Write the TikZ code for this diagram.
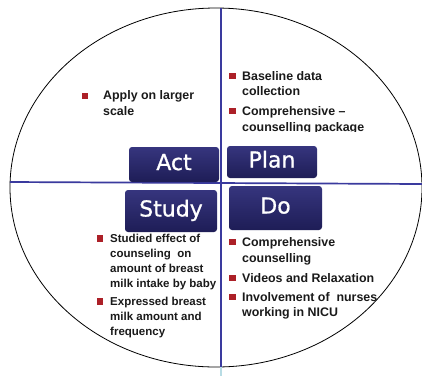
\documentclass[tikz,border=0pt]{standalone}
\usepackage{fontspec}
\setmainfont{Liberation Sans}
\newfontfamily\boxfont[FakeBold=0.8]{DejaVu Sans}
\definecolor{divblue}{HTML}{3A3A9E}
\definecolor{paleblue}{HTML}{B8DCE4}
\definecolor{boxtop}{HTML}{36357E}
\definecolor{boxbot}{HTML}{1E1D56}
\definecolor{bulred}{HTML}{AC2028}
\definecolor{txt}{HTML}{1A1A1A}
\newcommand\itemlines[2]{\vtop{\baselineskip=#1\lineskiplimit=-10pt\halign{##\hfil\cr#2\crcr}}}
\begin{document}
\begin{tikzpicture}[x=1pt,y=-1pt,
  divider/.style={draw=divblue,line width=1.7pt},
  pdcabox/.style={rectangle,rounded corners=3pt,top color=boxtop,bottom color=boxbot,
    text=white,font=\boxfont\fontsize{22}{24}\selectfont,text height=16pt,text depth=5pt,inner sep=0pt},
  bulsq/.style={rectangle,fill=bulred,minimum size=6.5pt,inner sep=0pt},
  bigitem/.style={anchor=base west,inner sep=0pt,text=txt,font=\bfseries\fontsize{12.4}{15.7}\selectfont},
  smallitem/.style={anchor=base west,inner sep=0pt,text=txt,font=\bfseries\fontsize{11.5}{15}\selectfont}]
\useasboundingbox (0,0) rectangle (422,376);
\fill[white] (0,0) rectangle (422,376);
% ellipse
\draw[black,line width=0.8pt] (216,187.5) ellipse [x radius=206pt, y radius=179.5pt];
% dividers
\coordinate (vtop) at (221,8);
\coordinate (vbot) at (221,367);
\coordinate (vend) at (221,376);
\coordinate (hleft) at (10,182);
\coordinate (hright) at (422,184);
\draw[divider] (vtop) -- (vbot);
\draw[draw=paleblue,line width=1.5pt] (vbot) -- (vend);
\draw[divider] (hleft) -- (hright);
% boxes
\node[pdcabox,minimum width=90pt,minimum height=35pt] (act) at (174,164.5) {Act};
\node[pdcabox,minimum width=90pt,minimum height=32pt] (plan) at (272,162) {Plan};
\node[pdcabox,minimum width=92pt,minimum height=42pt] (study) at (171,211) {Study};
\node[pdcabox,minimum width=93pt,minimum height=44pt] (do) at (275.5,208) {Do};
% Act items
\node[bulsq] (ab1) at (85,96) {};
\node[bigitem] (at1) at (103,99.5) {\itemlines{15.7pt}{Apply on larger\cr scale}};
% Plan items
\node[bulsq] (pb1) at (232.5,76) {};
\node[bigitem] (pt1) at (242,80) {\itemlines{15.7pt}{Baseline data\cr collection}};
\node[bulsq] (pb2) at (232.5,111) {};
\begin{scope}
\clip (225,100) rectangle (422,131.7);
\node[bigitem] (pt2) at (242,115.3) {\itemlines{15.7pt}{Comprehensive –\cr counselling package}};
\end{scope}
% Do items
\node[bulsq] (db1) at (232.5,242) {};
\node[bigitem] (dt1) at (242,246.3) {\itemlines{15.7pt}{Comprehensive\cr counselling}};
\node[bulsq] (db2) at (232.5,278) {};
\node[bigitem] (dt2) at (242,282) {Videos and Relaxation};
\node[bulsq] (db3) at (232.5,297) {};
\node[bigitem] (dt3) at (242,301) {\itemlines{15.7pt}{Involvement of\ \ nurses\cr working in NICU}};
% Study items
\node[bulsq] (sb1) at (100,238.5) {};
\node[smallitem] (st1) at (110,242) {\itemlines{15pt}{Studied effect of\cr counseling\ \ on\cr amount of breast\cr milk intake by baby}};
\node[bulsq] (sb2) at (100,301.5) {};
\node[smallitem] (st2) at (110,305) {\itemlines{15pt}{Expressed breast\cr milk amount and\cr frequency}};
\end{tikzpicture}
\end{document}
